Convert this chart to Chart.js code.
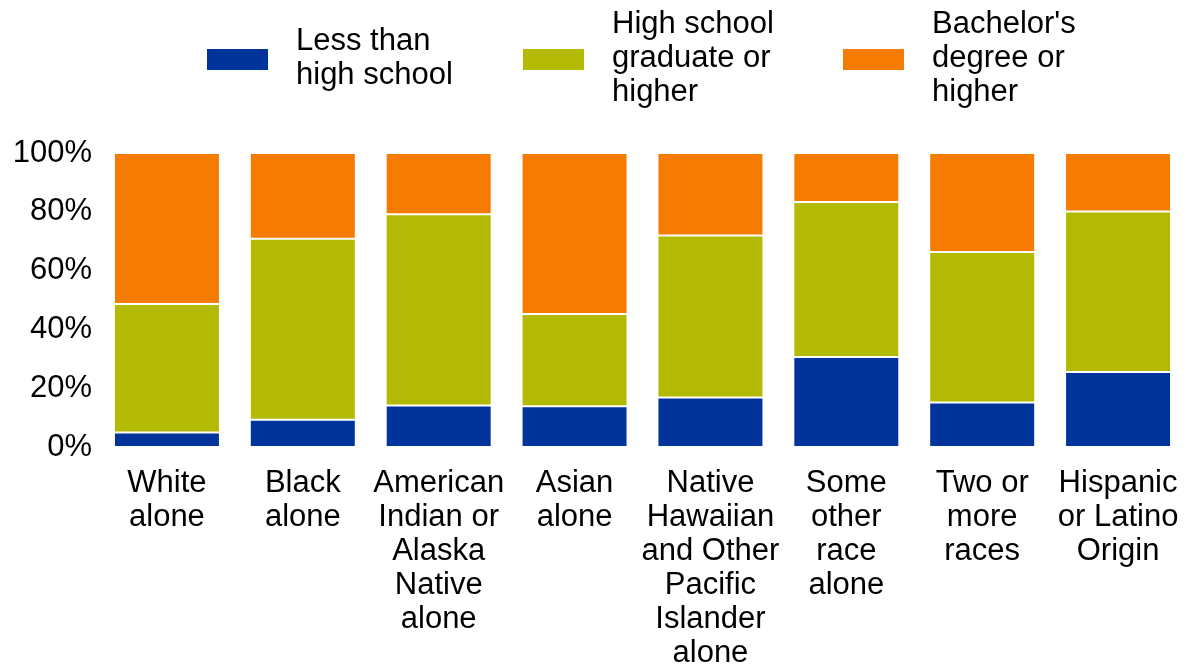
<!DOCTYPE html>
<html lang="en">
<head>
<meta charset="UTF-8">
<title>Educational attainment by race</title>
<script src="https://cdn.jsdelivr.net/npm/chart.js"></script>
<style>
  html, body { margin: 0; padding: 0; background: #fff; }
  #wrap { position: relative; width: 1187px; height: 665px; }
  #chart { position: absolute; left: 0; top: 0; }
  .item { position: absolute; top: 0; height: 114px; display: flex; align-items: center;
          font: 31px "Liberation Sans", Arial, sans-serif; line-height: 34px; color: #000; }
  .box { width: 61px; height: 21px; margin-right: 28px; margin-top: 5px; }
</style>
</head>
<body>
<div id="wrap">
  <canvas id="chart" width="1187" height="665"></canvas>
  <div id="legend"></div>
</div>
<script>
// categories (multi-line labels)
const categories = [
  ['White', 'alone'],
  ['Black', 'alone'],
  ['American', 'Indian or', 'Alaska', 'Native', 'alone'],
  ['Asian', 'alone'],
  ['Native', 'Hawaiian', 'and Other', 'Pacific', 'Islander', 'alone'],
  ['Some', 'other', 'race', 'alone'],
  ['Two or', 'more', 'races'],
  ['Hispanic', 'or Latino', 'Origin']
];

// percentages
const lessThanHS = [4.9, 9.3, 14.1, 13.9, 16.8, 30.6, 15.1, 25.5];
const hsGraduate = [43.7, 61.5, 65.1, 31.3, 55.1, 52.7, 51.2, 54.6];
const bachelors  = [51.4, 29.2, 20.8, 54.8, 28.1, 16.7, 33.7, 19.9];

const seriesNames = [['Less than', 'high school'], ['High school', 'graduate or', 'higher'], ["Bachelor's", 'degree or', 'higher']];
const colors = ['#00349b', '#b3ba04', '#f57c00'];
const yTicks = [0, 20, 40, 60, 80, 100];

// legend (html, because labels are multi-line)
const legendLeft = [207, 523, 843];
const legend = document.getElementById('legend');
seriesNames.forEach((lines, i) => {
  const item = document.createElement('div');
  item.className = 'item';
  item.style.left = legendLeft[i] + 'px';
  item.innerHTML = '<div class="box" style="background:' + colors[i] + '"></div><div>' + lines.join('<br>') + '</div>';
  legend.appendChild(item);
});

const font = { family: '"Liberation Sans", Arial, sans-serif', size: 31, lineHeight: 1.1 };

const makeSet = (label, data, color) => ({
  label: label,
  data: data,
  backgroundColor: color,
  borderColor: '#ffffff',
  borderWidth: 1,
  borderSkipped: false,
  barPercentage: 0.78,
  categoryPercentage: 1
});

new Chart(document.getElementById('chart'), {
  type: 'bar',
  data: {
    labels: categories,
    datasets: [
      makeSet(seriesNames[0].join(' '), lessThanHS, colors[0]),
      makeSet(seriesNames[1].join(' '), hsGraduate, colors[1]),
      makeSet(seriesNames[2].join(' '), bachelors, colors[2])
    ]
  },
  options: {
    responsive: false,
    animation: false,
    layout: { padding: { top: 153, right: 1, left: 0, bottom: 0 } },
    plugins: { legend: { display: false }, tooltip: { enabled: false } },
    scales: {
      x: {
        stacked: true,
        grid: { display: false, drawTicks: false },
        border: { display: false },
        ticks: { color: '#000', font: font, maxRotation: 0, autoSkip: false, padding: 19 },
        afterFit: (axis) => { axis.height = 218; axis.paddingLeft = 0; axis.paddingRight = 0; }
      },
      y: {
        stacked: true,
        min: 0,
        max: 100,
        grid: { display: false, drawTicks: false },
        border: { display: false },
        afterBuildTicks: (axis) => { axis.ticks = yTicks.map(v => ({ value: v })); },
        ticks: { color: '#000', font: font, padding: 7, callback: (v) => v + '%' },
        afterFit: (axis) => { axis.width = 99; }
      }
    }
  }
});
</script>
</body>
</html>
